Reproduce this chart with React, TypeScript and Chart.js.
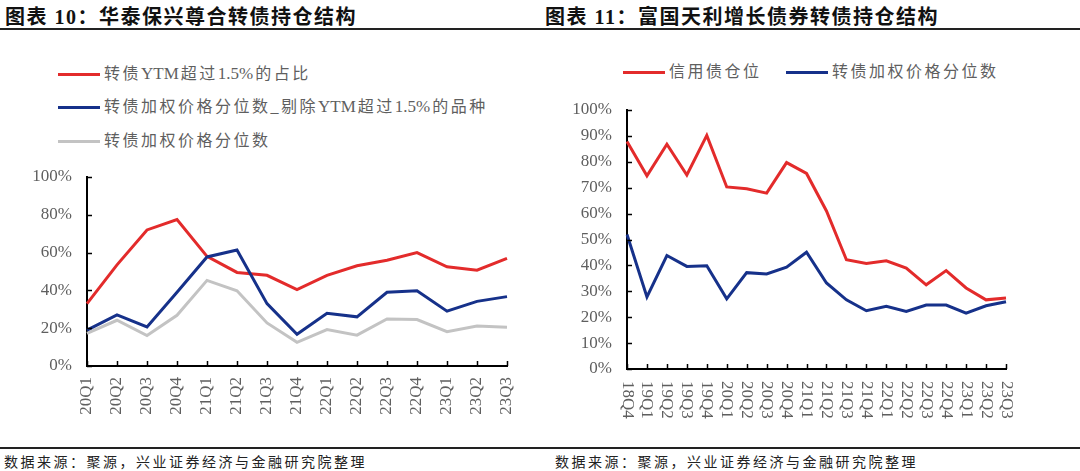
import React, { useEffect, useRef } from "react";
import { Chart, registerables } from "chart.js";

Chart.register(...registerables);

// ---------- data ----------
const leftLabels = ["20Q1", "20Q2", "20Q3", "20Q4", "21Q1", "21Q2", "21Q3", "21Q4", "22Q1", "22Q2", "22Q3", "22Q4", "23Q1", "23Q2", "23Q3"];
const ytmShare = [33, 53.5, 72, 77.5, 58, 49.5, 48, 40.4, 48, 53, 56, 60, 52.5, 50.7, 57];
const exYtmPct = [19, 27, 20.7, 39, 57.7, 61.4, 33, 16.8, 27.9, 26, 39, 39.8, 29, 34.2, 36.7];
const allPct = [17.2, 24.2, 16.1, 26.8, 45.3, 39.8, 22.8, 12.5, 19.3, 16.3, 24.9, 24.6, 18.2, 21.2, 20.5];

const rightLabels = ["18Q4", "19Q1", "19Q2", "19Q3", "19Q4", "20Q1", "20Q2", "20Q3", "20Q4", "21Q1", "21Q2", "21Q3", "21Q4", "22Q1", "22Q2", "22Q3", "22Q4", "23Q1", "23Q2", "23Q3"];
const creditPos = [87.8, 74.6, 86.8, 74.9, 90.2, 70.3, 69.6, 67.9, 79.7, 75.5, 61, 42.2, 40.7, 41.8, 39, 32.5, 38, 31.3, 26.7, 27.4];
const cbPct = [51.9, 27.8, 43.8, 39.6, 39.9, 27.1, 37.2, 36.7, 39.3, 45.1, 33.2, 26.7, 22.5, 24.2, 22.2, 24.7, 24.7, 21.6, 24.4, 26];

const leftSeriesNames = ["转债YTM超过1.5%的占比", "转债加权价格分位数_剔除YTM超过1.5%的品种", "转债加权价格分位数"];
const rightSeriesNames = ["信用债仓位", "转债加权价格分位数"];

const RED = "#E32B2B";
const BLUE = "#16318A";
const GRAY = "#C3C3C3";
const TEXT = "#5f5f5f";
const TICK_FONT = { family: "'Liberation Serif', serif", size: 17 };
const CJK = '"Liberation Serif", "Noto Sans CJK SC", serif';

const innerTicks = {
  id: "innerTicks",
  afterDraw(chart: any) {
    const { ctx, chartArea, scales } = chart;
    const x = scales.x;
    const y = scales.y;
    ctx.save();
    ctx.strokeStyle = "#000";
    ctx.lineWidth = 1.5;
    ctx.beginPath();
    x.ticks.forEach((_t: any, i: number) => {
      const px = Math.round(x.getPixelForTick(i)) + 0.5;
      ctx.moveTo(px, chartArea.bottom);
      ctx.lineTo(px, chartArea.bottom - 5);
    });
    y.ticks.forEach((_t: any, i: number) => {
      const py = Math.round(y.getPixelForTick(i)) + 0.5;
      ctx.moveTo(chartArea.left, py);
      ctx.lineTo(chartArea.left + 5, py);
    });
    ctx.stroke();
    ctx.restore();
  },
};

const downLabels = {
  id: "downLabels",
  afterDraw(chart: any) {
    const { ctx, chartArea, scales } = chart;
    const x = scales.x;
    ctx.save();
    ctx.font = `${TICK_FONT.size}px ${TICK_FONT.family}`;
    ctx.fillStyle = TEXT;
    ctx.textAlign = "left";
    ctx.textBaseline = "middle";
    (chart.data.labels as string[]).forEach((l, i) => {
      const px = x.getPixelForTick(i);
      ctx.save();
      ctx.translate(px, chartArea.bottom + 12);
      ctx.rotate(Math.PI / 2);
      ctx.fillText(l, 0, 0);
      ctx.restore();
    });
    ctx.restore();
  },
};

function makeOptions(opts: {
  yWidth: number;
  xHeight: number;
  padTop: number;
  padRight: number;
  step: number;
  hideX: boolean;
}) {
  return {
    responsive: false,
    animation: false as const,
    layout: { padding: { top: opts.padTop, right: opts.padRight, left: 0, bottom: 0 } },
    plugins: { legend: { display: false }, tooltip: { enabled: false } },
    elements: { point: { radius: 0 }, line: { tension: 0, borderWidth: 3 } },
    scales: {
      x: {
        offset: false,
        grid: { display: false, drawTicks: false },
        border: { display: true, color: "#000", width: 2 },
        ticks: {
          autoSkip: false,
          maxRotation: 90,
          minRotation: 90,
          padding: 11,
          color: opts.hideX ? "rgba(0,0,0,0)" : TEXT,
          font: TICK_FONT,
        },
        afterFit: (s: any) => {
          s.height = opts.xHeight;
        },
      },
      y: {
        min: 0,
        max: 100,
        grid: { display: false, drawTicks: false },
        border: { display: true, color: "#000", width: 2 },
        ticks: {
          stepSize: opts.step,
          padding: 15,
          color: TEXT,
          font: TICK_FONT,
          callback: (v: any) => `${v}%`,
        },
        afterFit: (s: any) => {
          s.width = opts.yWidth;
        },
      },
    },
  };
}

function LeftChart() {
  const ref = useRef<HTMLCanvasElement>(null);
  useEffect(() => {
    const chart = new Chart(ref.current!, {
      type: "line",
      data: {
        labels: leftLabels,
        datasets: [
          { label: leftSeriesNames[2], data: allPct, borderColor: GRAY, backgroundColor: GRAY, order: 3 },
          { label: leftSeriesNames[1], data: exYtmPct, borderColor: BLUE, backgroundColor: BLUE, order: 1 },
          { label: leftSeriesNames[0], data: ytmShare, borderColor: RED, backgroundColor: RED, order: 2 },
        ],
      },
      options: makeOptions({ yWidth: 87, xHeight: 64, padTop: 30, padRight: 33, step: 20, hideX: false }) as any,
      plugins: [innerTicks],
    });
    return () => chart.destroy();
  }, []);
  return (
    <canvas
      ref={ref}
      width={540}
      height={283}
      style={{ position: "absolute", left: 0, top: 147, width: 540, height: 283 }}
    />
  );
}

function RightChart() {
  const ref = useRef<HTMLCanvasElement>(null);
  useEffect(() => {
    const chart = new Chart(ref.current!, {
      type: "line",
      data: {
        labels: rightLabels,
        datasets: [
          { label: rightSeriesNames[0], data: creditPos, borderColor: RED, backgroundColor: RED },
          { label: rightSeriesNames[1], data: cbPct, borderColor: BLUE, backgroundColor: BLUE },
        ],
      },
      options: makeOptions({ yWidth: 87, xHeight: 61, padTop: 30, padRight: 74, step: 10, hideX: true }) as any,
      plugins: [innerTicks, downLabels],
    });
    return () => chart.destroy();
  }, []);
  return (
    <canvas
      ref={ref}
      width={540}
      height={350}
      style={{ position: "absolute", left: 540, top: 80, width: 540, height: 350 }}
    />
  );
}

function LegendText({ text }: { text: string }) {
  const parts = text.match(/[A-Za-z0-9.%]+|[^A-Za-z0-9.%]+/g) || [text];
  return (
    <span style={{ fontFamily: CJK, fontSize: 16, color: TEXT, lineHeight: "22px" }}>
      {parts.map((p, i) =>
        /^[A-Za-z0-9.%]+$/.test(p) ? (
          <span key={i} style={{ fontSize: 17, letterSpacing: 0, marginRight: 2 }}>{p}</span>
        ) : (
          <span key={i} style={{ letterSpacing: 2.5 }}>{p}</span>
        )
      )}
    </span>
  );
}

function LegendItem({ color, text, x, y }: { color: string; text: string; x: number; y: number }) {
  return (
    <div style={{ position: "absolute", left: x, top: y - 11, height: 22, display: "flex", alignItems: "center", whiteSpace: "nowrap" }}>
      <div style={{ width: 42, height: 3, background: color, marginRight: 4 }} />
      <LegendText text={text} />
    </div>
  );
}

export default function App() {
  const titleStyle: React.CSSProperties = {
    position: "absolute",
    top: 6,
    fontFamily: CJK,
    fontWeight: "bold",
    fontSize: 20,
    letterSpacing: 1.5,
    lineHeight: "22px",
    color: "#111",
    whiteSpace: "nowrap",
  };
  const footStyle: React.CSSProperties = {
    position: "absolute",
    top: 451,
    fontFamily: '"Noto Sans CJK SC", serif',
    fontSize: 14,
    letterSpacing: 2.5,
    lineHeight: "20px",
    color: "#222",
    whiteSpace: "nowrap",
  };
  return (
    <div style={{ position: "fixed", left: 0, top: 0, width: 1080, height: 471, background: "#fff", overflow: "hidden" }}>
      <div style={{ ...titleStyle, left: 5 }}>图表 10：华泰保兴尊合转债持仓结构</div>
      <div style={{ ...titleStyle, left: 545 }}>图表 11：富国天利增长债券转债持仓结构</div>
      <div style={{ position: "absolute", left: 0, top: 28, width: 1080, height: 2, background: "#222" }} />

      <LegendItem color={RED} text={leftSeriesNames[0]} x={58} y={74} />
      <LegendItem color={BLUE} text={leftSeriesNames[1]} x={58} y={107} />
      <LegendItem color={GRAY} text={leftSeriesNames[2]} x={58} y={141} />

      <LegendItem color={RED} text={rightSeriesNames[0]} x={623} y={72} />
      <LegendItem color={BLUE} text={rightSeriesNames[1]} x={786} y={72} />

      <LeftChart />
      <RightChart />

      <div style={{ position: "absolute", left: 0, top: 447, width: 1080, height: 2, background: "#222" }} />
      <div style={{ ...footStyle, left: 4 }}>数据来源：聚源，兴业证券经济与金融研究院整理</div>
      <div style={{ ...footStyle, left: 555 }}>数据来源：聚源，兴业证券经济与金融研究院整理</div>
    </div>
  );
}
